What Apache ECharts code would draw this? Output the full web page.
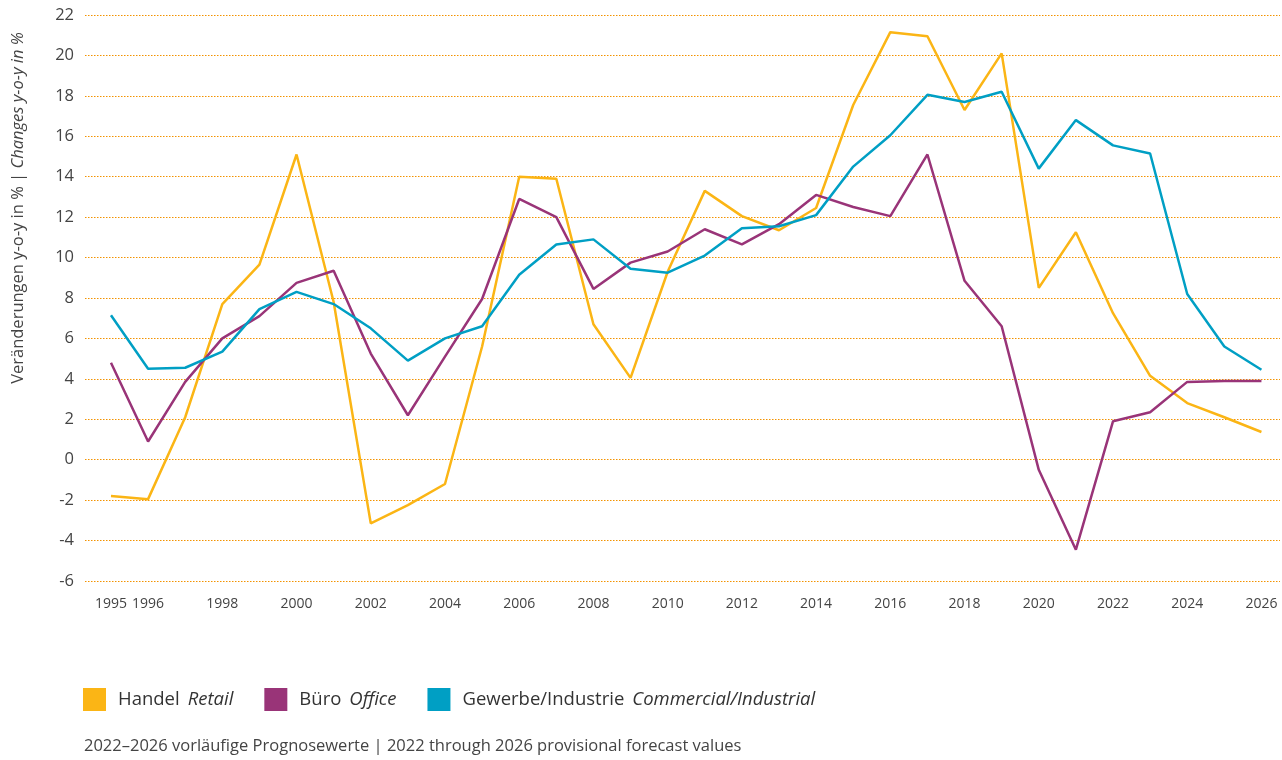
<!DOCTYPE html>
<html>
<head>
<meta charset="utf-8">
<script src="https://cdn.jsdelivr.net/npm/echarts@6/dist/echarts.min.js"></script>
<style>
  html, body { margin: 0; padding: 0; background: #fff; }
  #chart { width: 1282px; height: 760px; }
</style>
</head>
<body>
<div id="chart"></div>
<script>
// Jahre 1995 - 2026
var years = [];
for (var y = 1995; y <= 2026; y++) years.push(y);

var yearLabels = [1995, 1996, 1998, 2000, 2002, 2004, 2006, 2008, 2010, 2012,
    2014, 2016, 2018, 2020, 2022, 2024, 2026];

var namesDe = ['Handel', 'Büro', 'Gewerbe/Industrie'];
var namesEn = ['Retail', 'Office', 'Commercial/Industrial'];
var colors = ['#FBB515', '#993478', '#009FC4'];

var handel = [-1.8, -1.95, 2.1, 7.7, 9.65, 15.1, 7.8, -3.15, -2.25, -1.2,
    5.6, 14.0, 13.9, 6.7, 4.05, 9.3, 13.3, 12.05, 11.35, 12.45,
    17.55, 21.15, 20.95, 17.3, 20.1, 8.5, 11.25, 7.25, 4.15, 2.8,
    2.1, 1.37];
var buero = [4.8, 0.9, 3.85, 6.0, 7.1, 8.75, 9.35, 5.25, 2.2, 5.1,
    7.95, 12.9, 12.0, 8.45, 9.75, 10.3, 11.4, 10.65, 11.65, 13.1,
    12.5, 12.05, 15.1, 8.85, 6.6, -0.5, -4.45, 1.9, 2.35, 3.85,
    3.9, 3.9];
var gewerbe = [7.15, 4.5, 4.55, 5.35, 7.45, 8.3, 7.7, 6.5, 4.9, 6.0,
    6.6, 9.15, 10.65, 10.9, 9.45, 9.25, 10.1, 11.45, 11.55, 12.1,
    14.5, 16.05, 18.05, 17.7, 18.2, 14.4, 16.8, 15.55, 15.15, 8.2,
    5.6, 4.45];

var font = '"Open Sans", Roboto, sans-serif';

function pairs(values) {
    return values.map(function (v, i) { return [years[i], v]; });
}

var chartDom = document.getElementById('chart');
var myChart = echarts.init(chartDom);

var seriesValues = [handel, buero, gewerbe];
var series = seriesValues.map(function (values, i) {
    return {
        name: namesDe[i],
        type: 'line',
        data: pairs(values),
        symbol: 'none',
        lineStyle: { width: 2.5, color: colors[i] },
        itemStyle: { color: colors[i] }
    };
});

var option = {
    animation: false,
    textStyle: { fontFamily: font },
    grid: {
        left: 85,
        right: 2,
        top: 15,
        bottom: 179
    },
    xAxis: {
        type: 'value',
        min: 1994.3,
        max: 2026.5,
        axisLine: { show: false },
        axisTick: { show: false },
        splitLine: { show: false },
        axisLabel: {
            customValues: yearLabels,
            formatter: function (v) { return String(v); },
            color: '#444',
            fontSize: 14,
            margin: 16,
            fontFamily: font
        }
    },
    yAxis: {
        type: 'value',
        min: -6,
        max: 22,
        interval: 2,
        axisLine: { show: false },
        axisTick: { show: false },
        axisLabel: {
            color: '#444',
            fontSize: 16.5,
            margin: 11,
            fontFamily: font
        },
        splitLine: {
            show: true,
            lineStyle: { color: '#F39200', type: [1.5, 1.5], width: 1, opacity: 1 }
        }
    },
    legend: {
        left: 83,
        top: 688,
        padding: 0,
        itemWidth: 23,
        itemHeight: 23,
        itemGap: 31,
        icon: 'rect',
        data: namesDe,
        formatter: function (name) {
            var i = namesDe.indexOf(name);
            return '{de|' + name + '}{sp| }{en|' + namesEn[i] + '}';
        },
        textStyle: {
            padding: [0, 0, 0, 7],
            rich: {
                de: { fontSize: 18.5, color: '#333', fontFamily: font },
                sp: { fontSize: 18.5, width: 8 },
                en: { fontSize: 18.5, color: '#333', fontStyle: 'italic', fontFamily: font }
            }
        }
    },
    graphic: [
        {
            type: 'text',
            x: 18,
            y: 208,
            rotation: Math.PI / 2,
            style: {
                text: '{de|Veränderungen y-o-y in % | }{en|Changes y-o-y in %}',
                align: 'center',
                verticalAlign: 'middle',
                rich: {
                    de: { fontSize: 16.5, fill: '#444', fontFamily: font },
                    en: { fontSize: 16.5, fill: '#444', fontStyle: 'italic', fontFamily: font }
                }
            }
        },
        {
            type: 'text',
            left: 84,
            top: 738,
            style: {
                text: '2022–2026 vorläufige Prognosewerte | 2022 through 2026 provisional forecast values',
                fontSize: 16.5,
                fill: '#444',
                fontFamily: font
            }
        }
    ],
    series: series
};
myChart.setOption(option);

window.addEventListener('resize', function () {
    myChart.resize();
});
</script>
</body>
</html>
